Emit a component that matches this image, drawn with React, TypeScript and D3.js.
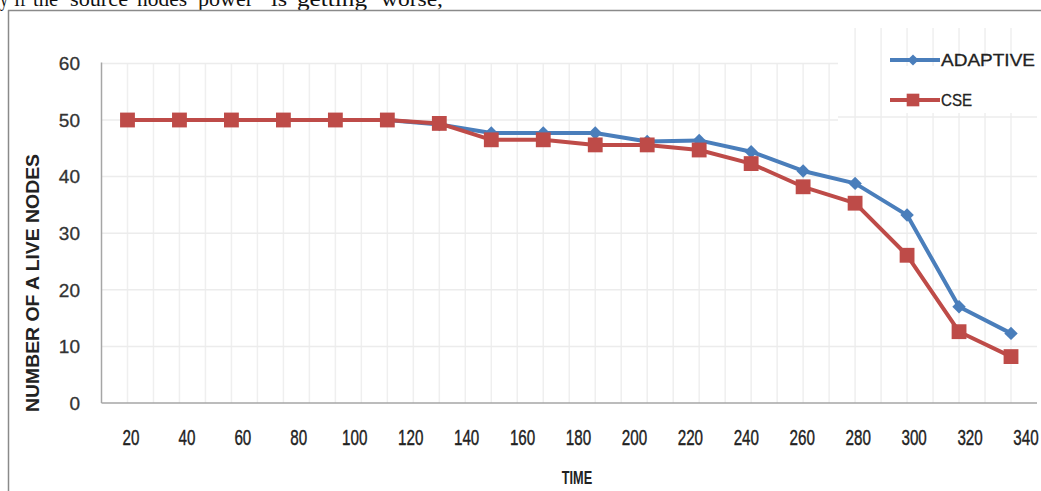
import React from "react";
import * as d3 from "d3";

const pointIndex = d3.range(18);
const adaptive = [50, 50, 50, 50, 50, 50, 49.2, 47.7, 47.7, 47.7, 46.2, 46.4, 44.4, 41, 38.8, 33.2, 17, 12.3];
const cse = [50, 50, 50, 50, 50, 50, 49.4, 46.5, 46.5, 45.6, 45.6, 44.7, 42.3, 38.2, 35.3, 26.1, 12.6, 8.2];
const timeLabels = ["20", "40", "60", "80", "100", "120", "140", "160", "180", "200", "220", "240", "260", "280", "300", "320", "340"];
const yTicks = [0, 10, 20, 30, 40, 50, 60];
const headerWords = ["y", "If", "the", "source", "nodes", "power", "is", "getting", "worse,"];
const headerWordX = [0, 14, 33, 70, 137, 198, 271, 297, 381];
const headerWordW = [8, 12, 25, 58, 50, 55, 16, 70, 62];

const W = 1041;
const H = 491;
const plotLeft = 101.5;
const plotRight = 1037;
const yBottom = 403;
const yTopPx = 63.4;

const BLUE = "#4A7EBB";
const RED = "#BE4B48";

export default function App() {
  const x = d3.scaleBand<number>().domain(pointIndex).range([plotLeft, plotRight]);
  const bw = x.bandwidth();
  const cx = (i: number) => (x(i) as number) + bw / 2;
  const y = d3.scaleLinear().domain([0, 60]).range([yBottom, yTopPx]);
  const xl = d3.scalePoint<string>().domain(timeLabels).range([131, 1026]);

  const line = d3
    .line<number>()
    .x((_, i) => cx(i))
    .y((d) => y(d));

  const diamond = d3.symbol().type(d3.symbolDiamond2).size(115)() as string;
  const square = d3.symbol().type(d3.symbolSquare).size(220)() as string;
  const legSquare = d3.symbol().type(d3.symbolSquare).size(160)() as string;
  const legDiamond = d3.symbol().type(d3.symbolDiamond2).size(80)() as string;

  const vGrid: number[] = [];
  pointIndex.forEach((i) => {
    if (i > 0) vGrid.push(x(i) as number);
    vGrid.push(cx(i));
  });

  return (
    <svg
      width={W}
      height={H}
      style={{ position: "absolute", left: 0, top: 0, background: "#fff" }}
    >
      <rect x={0} y={0} width={W} height={H} fill="#fff" />
      {/* cut-off text line at top */}
      {headerWords.map((w, i) => (
        <text
          key={"w" + i}
          x={headerWordX[i]}
          y={6}
          fontFamily="Liberation Serif, serif"
          fontSize={20}
          fill="#111"
          textLength={headerWordW[i]}
          lengthAdjust="spacingAndGlyphs"
        >
          {w}
        </text>
      ))}
      {/* frame */}
      <line x1={8} x2={W} y1={10.5} y2={10.5} stroke="#8a8a8a" strokeWidth={1.5} />
      <line x1={8.5} x2={8.5} y1={10} y2={H} stroke="#8a8a8a" strokeWidth={1.5} />

      {/* vertical gridlines */}
      {vGrid.map((gx, k) => (
        <line
          key={"v" + k}
          x1={gx}
          x2={gx}
          y1={gx > 850 ? 28 : yTopPx}
          y2={yBottom}
          stroke="#efefef"
          strokeWidth={1.5}
        />
      ))}
      {/* horizontal gridlines */}
      {yTicks
        .filter((t) => t > 0)
        .map((t) => (
          <line
            key={"h" + t}
            x1={plotLeft}
            x2={t >= 50 ? 838 : plotRight}
            y1={y(t)}
            y2={y(t)}
            stroke="#ececec"
            strokeWidth={1.5}
          />
        ))}
      <line x1={838} x2={plotRight} y1={y(50) - 3} y2={y(50) - 3} stroke="#ececec" strokeWidth={1.5} />
      {/* legend background */}
      <rect x={882} y={66} width={plotRight - 882} height={47} fill="#fff" />

      {/* axes */}
      <line x1={plotLeft} x2={plotLeft} y1={yTopPx - 1} y2={yBottom} stroke="#a6a6a6" strokeWidth={1.5} />
      <line x1={plotLeft} x2={plotRight} y1={yBottom} y2={yBottom} stroke="#a6a6a6" strokeWidth={1.5} />

      {/* y tick labels */}
      {yTicks.map((t) => (
        <text
          key={"yt" + t}
          x={80}
          y={y(t)}
          dy="0.36em"
          textAnchor="end"
          fontFamily="Liberation Sans, Arial, sans-serif"
          fontSize={19}
          fill="#333"
          stroke="#333"
          strokeWidth={0.3}
        >
          {t}
        </text>
      ))}

      {/* x tick labels */}
      {timeLabels.map((l) => (
        <text
          key={"xt" + l}
          transform={`translate(${xl(l)},445) scale(0.95,1.4)`}
          textAnchor="middle"
          fontFamily="Liberation Sans, Arial, sans-serif"
          fontSize={16}
          fill="#222"
          stroke="#222"
          strokeWidth={0.3}
        >
          {l}
        </text>
      ))}

      {/* axis titles */}
      <text
        transform={`translate(577,484) scale(0.85,1.25)`}
        textAnchor="middle"
        fontFamily="Liberation Sans, Arial, sans-serif"
        fontWeight="bold"
        fontSize={15}
        fill="#222"
      >
        TIME
      </text>
      <text
        transform={`translate(39,283) rotate(-90) scale(1,1.1)`}
        textAnchor="middle"
        fontFamily="Liberation Sans, Arial, sans-serif"
        fontWeight="bold"
        fontSize={17}
        fill="#222"
        textLength={258}
        lengthAdjust="spacingAndGlyphs"
      >
        NUMBER OF A LIVE NODES
      </text>

      {/* series */}
      <path d={line(adaptive) as string} fill="none" stroke={BLUE} strokeWidth={4} strokeLinejoin="round" />
      {adaptive.map((v, i) => (
        <path key={"a" + i} d={diamond} transform={`translate(${cx(i)},${y(v)})`} fill={BLUE} />
      ))}
      <path d={line(cse) as string} fill="none" stroke={RED} strokeWidth={4} strokeLinejoin="round" />
      {cse.map((v, i) => (
        <path key={"c" + i} d={square} transform={`translate(${cx(i)},${y(v)})`} fill={RED} />
      ))}

      {/* legend */}
      <line x1={890} x2={940} y1={60} y2={60} stroke={BLUE} strokeWidth={4} />
      <path d={legDiamond} transform="translate(913,60)" fill={BLUE} />
      <text x={941} y={66} fontFamily="Liberation Sans, Arial, sans-serif" fontSize={17} fill="#222" stroke="#222" strokeWidth={0.3} textLength={94} lengthAdjust="spacingAndGlyphs">
        ADAPTIVE
      </text>
      <line x1={890} x2={940} y1={100} y2={100} stroke={RED} strokeWidth={4} />
      <path d={legSquare} transform="translate(913,100)" fill={RED} />
      <text x={941} y={106} fontFamily="Liberation Sans, Arial, sans-serif" fontSize={17} fill="#222" stroke="#222" strokeWidth={0.3} textLength={31} lengthAdjust="spacingAndGlyphs">
        CSE
      </text>
    </svg>
  );
}
